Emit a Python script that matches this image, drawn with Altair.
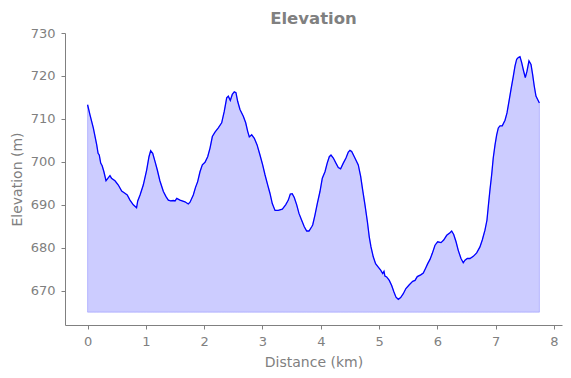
import altair as alt
import pandas as pd

dist = [0.0, 0.04, 0.098, 0.156, 0.18, 0.2, 0.225, 0.25, 0.28, 0.316, 0.35, 0.384, 0.41, 0.47,
        0.527, 0.585, 0.64, 0.68, 0.727, 0.784, 0.84, 0.86, 0.9, 0.955, 1.013, 1.053, 1.082,
        1.117, 1.156, 1.196, 1.24, 1.3, 1.345, 1.385, 1.425, 1.47, 1.5, 1.53, 1.585, 1.67,
        1.727, 1.757, 1.813, 1.85, 1.888, 1.928, 1.968, 2.014, 2.06, 2.1, 2.14, 2.185, 2.242,
        2.3, 2.345, 2.386, 2.414, 2.448, 2.482, 2.516, 2.545, 2.574, 2.614, 2.671, 2.712,
        2.746, 2.774, 2.815, 2.86, 2.906, 2.957, 3.003, 3.043, 3.09, 3.128, 3.168, 3.215,
        3.27, 3.34, 3.397, 3.443, 3.477, 3.51, 3.545, 3.587, 3.626, 3.672, 3.717, 3.758,
        3.798, 3.844, 3.861, 3.9, 3.94, 3.986, 4.026, 4.072, 4.11, 4.146, 4.175, 4.215, 4.26,
        4.3, 4.34, 4.386, 4.432, 4.472, 4.5, 4.53, 4.575, 4.643, 4.684, 4.718, 4.758, 4.8,
        4.832, 4.861, 4.9, 4.94, 4.986, 5.027, 5.062, 5.084, 5.1, 5.13, 5.175, 5.216, 5.255,
        5.29, 5.33, 5.37, 5.415, 5.46, 5.518, 5.576, 5.616, 5.655, 5.714, 5.758, 5.8, 5.834,
        5.873, 5.913, 5.959, 6.005, 6.062, 6.108, 6.16, 6.216, 6.245, 6.28, 6.32, 6.358,
        6.405, 6.444, 6.473, 6.513, 6.559, 6.616, 6.674, 6.73, 6.77, 6.816, 6.85, 6.873,
        6.902, 6.931, 6.958, 6.988, 7.017, 7.045, 7.074, 7.113, 7.16, 7.194, 7.228, 7.262,
        7.302, 7.331, 7.36, 7.388, 7.417, 7.446, 7.48, 7.508, 7.537, 7.571, 7.606, 7.634,
        7.662, 7.691, 7.72, 7.75]

elev = [713.3, 711.0, 707.9, 704.0, 702.0, 701.6, 699.7, 699.1, 697.7, 695.6, 696.2, 696.8,
        696.2, 695.6, 694.6, 693.2, 692.7, 692.3, 691.1, 690.0, 689.3, 690.9, 692.3, 694.6,
        698.1, 701.2, 702.6, 702.0, 700.1, 698.1, 695.6, 693.1, 691.9, 691.1, 690.9, 691.0,
        690.9, 691.5, 691.1, 690.7, 690.2, 690.6, 692.3, 694.0, 695.4, 697.7, 699.3, 699.9,
        701.2, 703.2, 705.9, 706.9, 707.9, 709.1, 711.8, 714.9, 715.3, 714.3, 715.7, 716.3,
        716.1, 714.1, 712.2, 710.6, 709.1, 707.1, 705.8, 706.3, 705.5, 704.0, 701.6, 699.3,
        697.0, 694.6, 692.7, 690.3, 688.7, 688.7, 689.0, 690.0, 691.1, 692.5, 692.6, 691.7,
        690.0, 688.0, 686.4, 684.9, 683.9, 683.9, 684.9, 685.3, 687.6, 690.3, 693.1, 696.2,
        697.7, 699.7, 701.2, 701.6, 700.9, 699.7, 698.7, 698.4, 699.7, 700.9, 702.3, 702.7,
        702.4, 701.2, 699.3, 696.6, 693.5, 690.0, 686.0, 682.5, 680.2, 677.9, 676.3, 675.5,
        674.8, 674.0, 674.5, 673.4, 673.2, 672.4, 671.2, 669.7, 668.5, 668.0, 668.4, 669.3,
        670.5, 671.4, 672.2, 672.4, 673.3, 673.7, 674.1, 675.3, 676.3, 677.3, 678.7, 680.6,
        681.4, 681.2, 681.8, 682.9, 683.5, 683.9, 683.1, 681.4, 679.4, 677.5, 676.5, 677.1,
        677.5, 677.5, 678.0, 678.8, 680.2, 681.8, 684.1, 686.4, 689.6, 693.5, 697.0, 700.9,
        703.9, 706.3, 707.9, 708.4, 708.4, 709.7, 711.4, 714.1, 716.8, 719.9, 722.3, 723.9,
        724.3, 724.5, 723.1, 721.1, 719.6, 721.1, 723.5, 722.7, 720.3, 717.6, 715.3, 714.5,
        713.7]

base_level = 665
x_ticks = [0, 1, 2, 3, 4, 5, 6, 7, 8]
y_ticks = [670, 680, 690, 700, 710, 720, 730]

df = pd.DataFrame({"dist": dist, "elev": elev})

FONT = "DejaVu Sans"
GRAY = "#808080"

x_enc = alt.X("dist:Q",
              scale=alt.Scale(domain=[-0.3875, 8.1375], nice=False, zero=False),
              axis=alt.Axis(values=x_ticks, title="Distance (km)", format="d",
                            titleX=248.5, titleY=41, titleBaseline="alphabetic",
                            titleAnchor="middle"))
y_enc = alt.Y("elev:Q",
              scale=alt.Scale(domain=[662.02, 730], nice=False, zero=False),
              axis=alt.Axis(values=y_ticks, title="Elevation (m)",
                            titleX=-44, titleY=146, titleAngle=-90,
                            titleBaseline="alphabetic", titleAlign="center"))

area = alt.Chart(df).mark_area(
    fill="blue", fillOpacity=0.2, stroke="blue", strokeOpacity=0.2, strokeWidth=1
).encode(x=x_enc, y=y_enc, y2=alt.datum(base_level))

line = alt.Chart(df).mark_line(color="blue", strokeWidth=1.3).encode(
    x="dist:Q", y="elev:Q"
)

chart = alt.layer(area, line).properties(
    width=497, height=292,
    title=alt.Title("Elevation", fontSize=16.5, fontWeight="bold", color=GRAY,
                    font=FONT, anchor="middle", baseline="alphabetic", offset=8, dy=21),
    autosize=alt.AutoSizeParams(type="none"),
    padding={"left": 65, "top": 33, "right": 9, "bottom": 53},
).configure_view(stroke=None).configure_axis(
    grid=False, domainColor=GRAY, tickColor=GRAY, labelColor=GRAY, titleColor=GRAY,
    labelFont=FONT, titleFont=FONT, labelFontSize=13, titleFontSize=14,
    titleFontWeight="normal", tickSize=4, labelPadding=6, domainWidth=1, tickWidth=1
)

chart.save("out.html", embed_options={"renderer": "svg", "actions": False})
